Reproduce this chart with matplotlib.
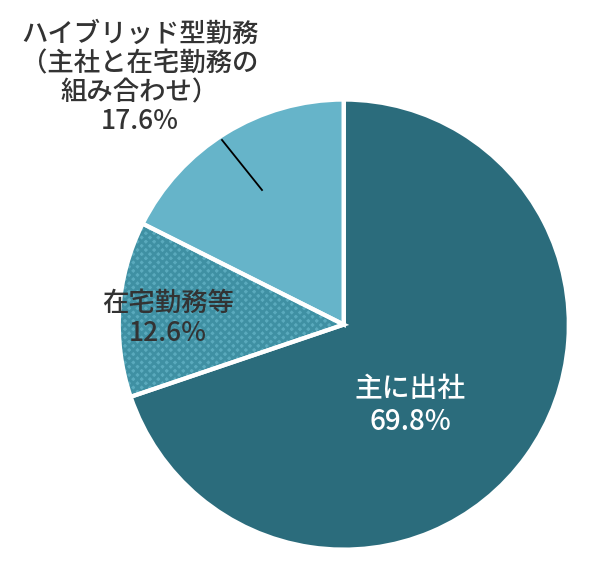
import matplotlib
matplotlib.use("Agg")
import matplotlib.pyplot as plt

labels = ["主に出社", "在宅勤務等", "ハイブリッド型勤務\n（主社と在宅勤務の\n組み合わせ）"]
values = [69.8, 12.6, 17.6]
colors = ["#2b6c7c", "#5aaabd", "#66b4c9"]

plt.rcParams['font.family'] = ['Noto Sans CJK JP', 'DejaVu Sans']
fig = plt.figure(figsize=(6, 5.75), dpi=100)
ax = fig.add_axes([0.198, 0.044, 0.75, 0.783])
plt.rcParams['hatch.linewidth'] = 2.0
w, _ = ax.pie(values, colors=colors, startangle=90, counterclock=False,
              wedgeprops=dict(linewidth=0))
w[1].set_hatch('xxxx')
w[1].set_edgecolor('#3f90a3')
ax.pie(values, colors=['none'] * 3, startangle=90, counterclock=False,
       wedgeprops=dict(linewidth=3, edgecolor='white', facecolor='none'))
ax.set_aspect('equal')
ax.set_xlim(-1, 1)
ax.set_ylim(-1, 1)

fs = 19
fig.text(410/600, 1-405/575, f"{labels[0]}\n{values[0]}%", color='white', fontsize=fs+1,
         ha='center', va='center', linespacing=1.15, fontweight='medium')
fig.text(168/600, 1-318/575, f"{labels[1]}\n{values[1]}%", color='#333333', fontsize=fs,
         ha='center', va='center', linespacing=1.15, fontweight='medium')
fig.text(140/600, 1-78/575, f"{labels[2]}\n{values[2]}%", color='#333333', fontsize=fs,
         ha='center', va='center', linespacing=1.1, fontweight='medium')
fig.add_artist(plt.Line2D([222/600, 262/600], [1-140/575, 1-190/575], color='black', lw=1.3))
fig.savefig("out.png", dpi=100)
